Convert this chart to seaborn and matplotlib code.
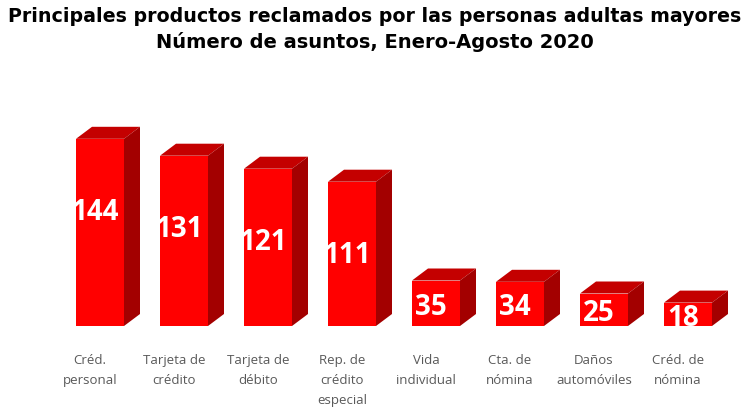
import matplotlib
matplotlib.use("Agg")
import matplotlib.pyplot as plt
import matplotlib.transforms as mtransforms
import seaborn as sns
import pandas as pd
from matplotlib.patches import Polygon

categories = ["Créd.\npersonal", "Tarjeta de\ncrédito", "Tarjeta de\ndébito",
              "Rep. de\ncrédito\nespecial", "Vida\nindividual", "Cta. de\nnómina",
              "Daños\nautomóviles", "Créd. de\nnómina"]
values = [144, 131, 121, 111, 35, 34, 25, 18]
title_lines = ["Principales productos reclamados por las personas adultas mayores",
               "Número de asuntos, Enero-Agosto 2020"]

df = pd.DataFrame({"cat": categories, "val": values})

sns.set_theme(style="white")
plt.rcParams['font.family'] = ['DejaVu Sans']

W, H = 749, 409
fig = plt.figure(figsize=(W / 100, H / 100), dpi=100)
px_per_cat = 84.0
x0 = -100 / px_per_cat
x1 = (W - 100) / px_per_cat
bottom_px = 409 - 326
px_per_unit = 1.3
top_px = 409 - 100
ax = fig.add_axes([0, bottom_px / H, 1, (top_px - bottom_px) / H])

front = "#ff0000"
sns.barplot(data=df, x="cat", y="val", ax=ax, color=front, saturation=1,
            width=48 / px_per_cat, linewidth=0, zorder=3)
ax.set_xlim(x0, x1)
ax.set_ylim(0, (top_px - bottom_px) / px_per_unit)

dx = 16 / px_per_cat
dy = 12 / px_per_unit
for p, v in zip(ax.patches, values):
    xl = p.get_x(); w = p.get_width(); h = p.get_height()
    xr = xl + w
    top = Polygon([(xl, h), (xr, h), (xr + dx, h + dy), (xl + dx, h + dy)],
                  closed=True, facecolor="#c40000", edgecolor="none", zorder=2)
    side = Polygon([(xr, 0), (xr + dx, dy), (xr + dx, h + dy), (xr, h)],
                   closed=True, facecolor="#a30000", edgecolor="none", zorder=2)
    ax.add_patch(top); ax.add_patch(side)
    ypos = max(v - 57, 0.5 * v - 3)
    t = ax.text(xl + w / 2 - 0.06, ypos, str(v), ha="center", va="center",
                color="white", fontsize=20, fontweight="bold",
                family=["Open Sans", "DejaVu Sans"], zorder=5)
    t.set_clip_path(p)

ax.set_xlabel(""); ax.set_ylabel("")
ax.set_yticks([])
ax.tick_params(axis="x", length=0, pad=20)
shift = mtransforms.ScaledTranslation(-10 / 100, 0, fig.dpi_scale_trans)
for lab in ax.get_xticklabels():
    lab.set_fontsize(9.5)
    lab.set_color("#595959")
    lab.set_family(["Open Sans", "DejaVu Sans"])
    lab.set_linespacing(1.7)
    lab.set_verticalalignment("top")
    lab.set_transform(lab.get_transform() + shift)
for s in ax.spines.values():
    s.set_visible(False)
ax.set_facecolor("none")

fig.text(0.5, 1 - 17 / H, title_lines[0], ha="center", va="center",
         fontsize=13.7, fontweight="bold", color="black")
fig.text(0.5, 1 - 42 / H, title_lines[1], ha="center", va="center",
         fontsize=14, fontweight="bold", color="black")

fig.savefig("out.png", dpi=100, facecolor="white")
